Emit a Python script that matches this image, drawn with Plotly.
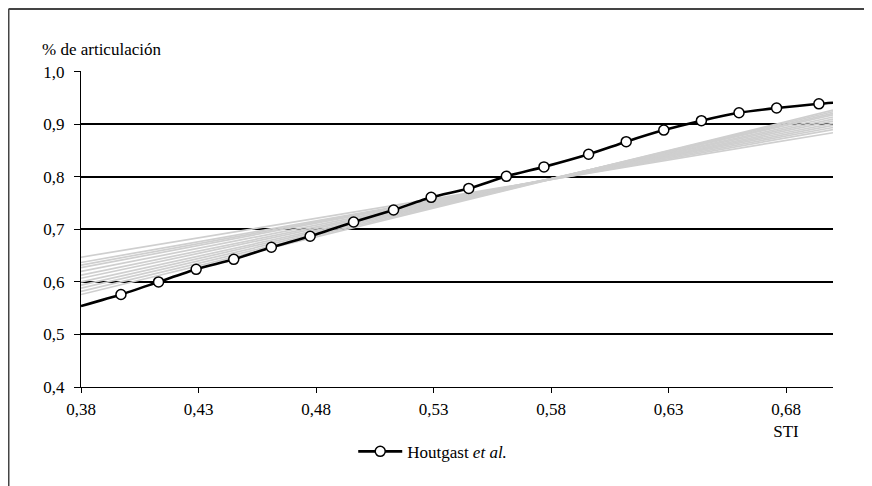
import plotly.graph_objects as go

# Houtgast et al. curve (markers)
h_x = [0.397, 0.413, 0.429, 0.445, 0.461, 0.4775, 0.496, 0.513, 0.529, 0.545,
       0.561, 0.577, 0.596, 0.612, 0.628, 0.644, 0.660, 0.676, 0.694]
h_y = [0.576, 0.600, 0.624, 0.643, 0.666, 0.687, 0.714, 0.737, 0.761, 0.778,
       0.801, 0.819, 0.843, 0.867, 0.889, 0.907, 0.922, 0.931, 0.939]
# line extends to axis ends
line_x = [0.38] + h_x + [0.70]
line_y = [0.554] + h_y + [0.941]

# gray straight lines: value at STI 0.38 and at STI 0.70
gray_x = [0.38, 0.70]
gray_left = [0.647, 0.637, 0.632, 0.627, 0.620, 0.613, 0.607, 0.600, 0.594, 0.588, 0.582, 0.576]
gray_right = [0.884, 0.890, 0.894, 0.898, 0.902, 0.906, 0.910, 0.914, 0.918, 0.921, 0.924, 0.927]

x_ticks = [0.38, 0.43, 0.48, 0.53, 0.58, 0.63, 0.68]
x_ticktext = ["0,38", "0,43", "0,48", "0,53", "0,58", "0,63", "0,68<br>STI"]
y_ticks = [0.4, 0.5, 0.6, 0.7, 0.8, 0.9, 1.0]
y_ticktext = ["0,4", "0,5", "0,6", "0,7", "0,8", "0,9", "1,0"]

FONT = "Liberation Serif"

fig = go.Figure()
for yl, yr in zip(gray_left, gray_right):
    fig.add_trace(go.Scatter(x=gray_x, y=[yl, yr], mode="lines",
                             line=dict(color="#cfcfcf", width=1.7),
                             showlegend=False, hoverinfo="skip"))

fig.add_trace(go.Scatter(x=line_x, y=line_y, mode="lines",
                         line=dict(color="black", width=2.6, shape="spline", smoothing=0.6),
                         showlegend=False, hoverinfo="skip"))
fig.add_trace(go.Scatter(x=h_x, y=h_y, mode="markers",
                         name="Houtgast <i>et al.</i>",
                         marker=dict(size=10, color="white", line=dict(color="black", width=1.5)),
                         showlegend=False))
# legend entry
fig.add_trace(go.Scatter(x=[None], y=[None], mode="lines+markers",
                         name="Houtgast <i>et al.</i>",
                         line=dict(color="black", width=2.6),
                         marker=dict(size=10, color="white", line=dict(color="black", width=1.5))))

# page has an 8px body margin: figure is 864x478 placed at (8, 8)
fig.update_layout(
    width=864, height=478,
    margin=dict(l=73, r=39, t=63, b=99),
    paper_bgcolor="white", plot_bgcolor="white",
    font=dict(family=FONT, size=17, color="black"),
    showlegend=True,
    legend=dict(orientation="h", x=0.362, y=-0.205, xanchor="left", yanchor="middle",
                font=dict(family=FONT, size=17, color="black"), itemwidth=44,
                bgcolor="rgba(0,0,0,0)"),
    xaxis=dict(range=[0.38, 0.70], tickvals=x_ticks, ticktext=x_ticktext,
               showgrid=False, zeroline=False, showline=True, linecolor="black", linewidth=1.3,
               ticks="outside", ticklen=5, tickcolor="black", tickwidth=1,
               ticklabelstandoff=1,
               tickfont=dict(family=FONT, size=17, color="black")),
    yaxis=dict(range=[0.4, 1.0015], tickvals=y_ticks, ticktext=y_ticktext,
               showgrid=True, gridcolor="black", gridwidth=1.5, zeroline=False,
               showline=True, linecolor="black", linewidth=1.3,
               ticks="outside", ticklen=6, tickcolor="black", tickwidth=1,
               ticklabelstandoff=6,
               tickfont=dict(family=FONT, size=17, color="black")),
    annotations=[dict(text="% de articulación", xref="paper", yref="paper",
                      x=-0.0545, y=1.0685, xanchor="left", yanchor="middle",
                      showarrow=False, font=dict(family=FONT, size=17, color="black"))],
    shapes=[
        dict(type="line", xref="paper", yref="paper", x0=-0.0964, x1=1.06, y0=1.1965, y1=1.1965,
             line=dict(color="#444444", width=2)),
        dict(type="line", xref="paper", yref="paper", x0=-0.0964, x1=-0.0964, y0=1.1965, y1=-0.32,
             line=dict(color="#444444", width=2)),
    ],
)

fig.write_html("out.html")
